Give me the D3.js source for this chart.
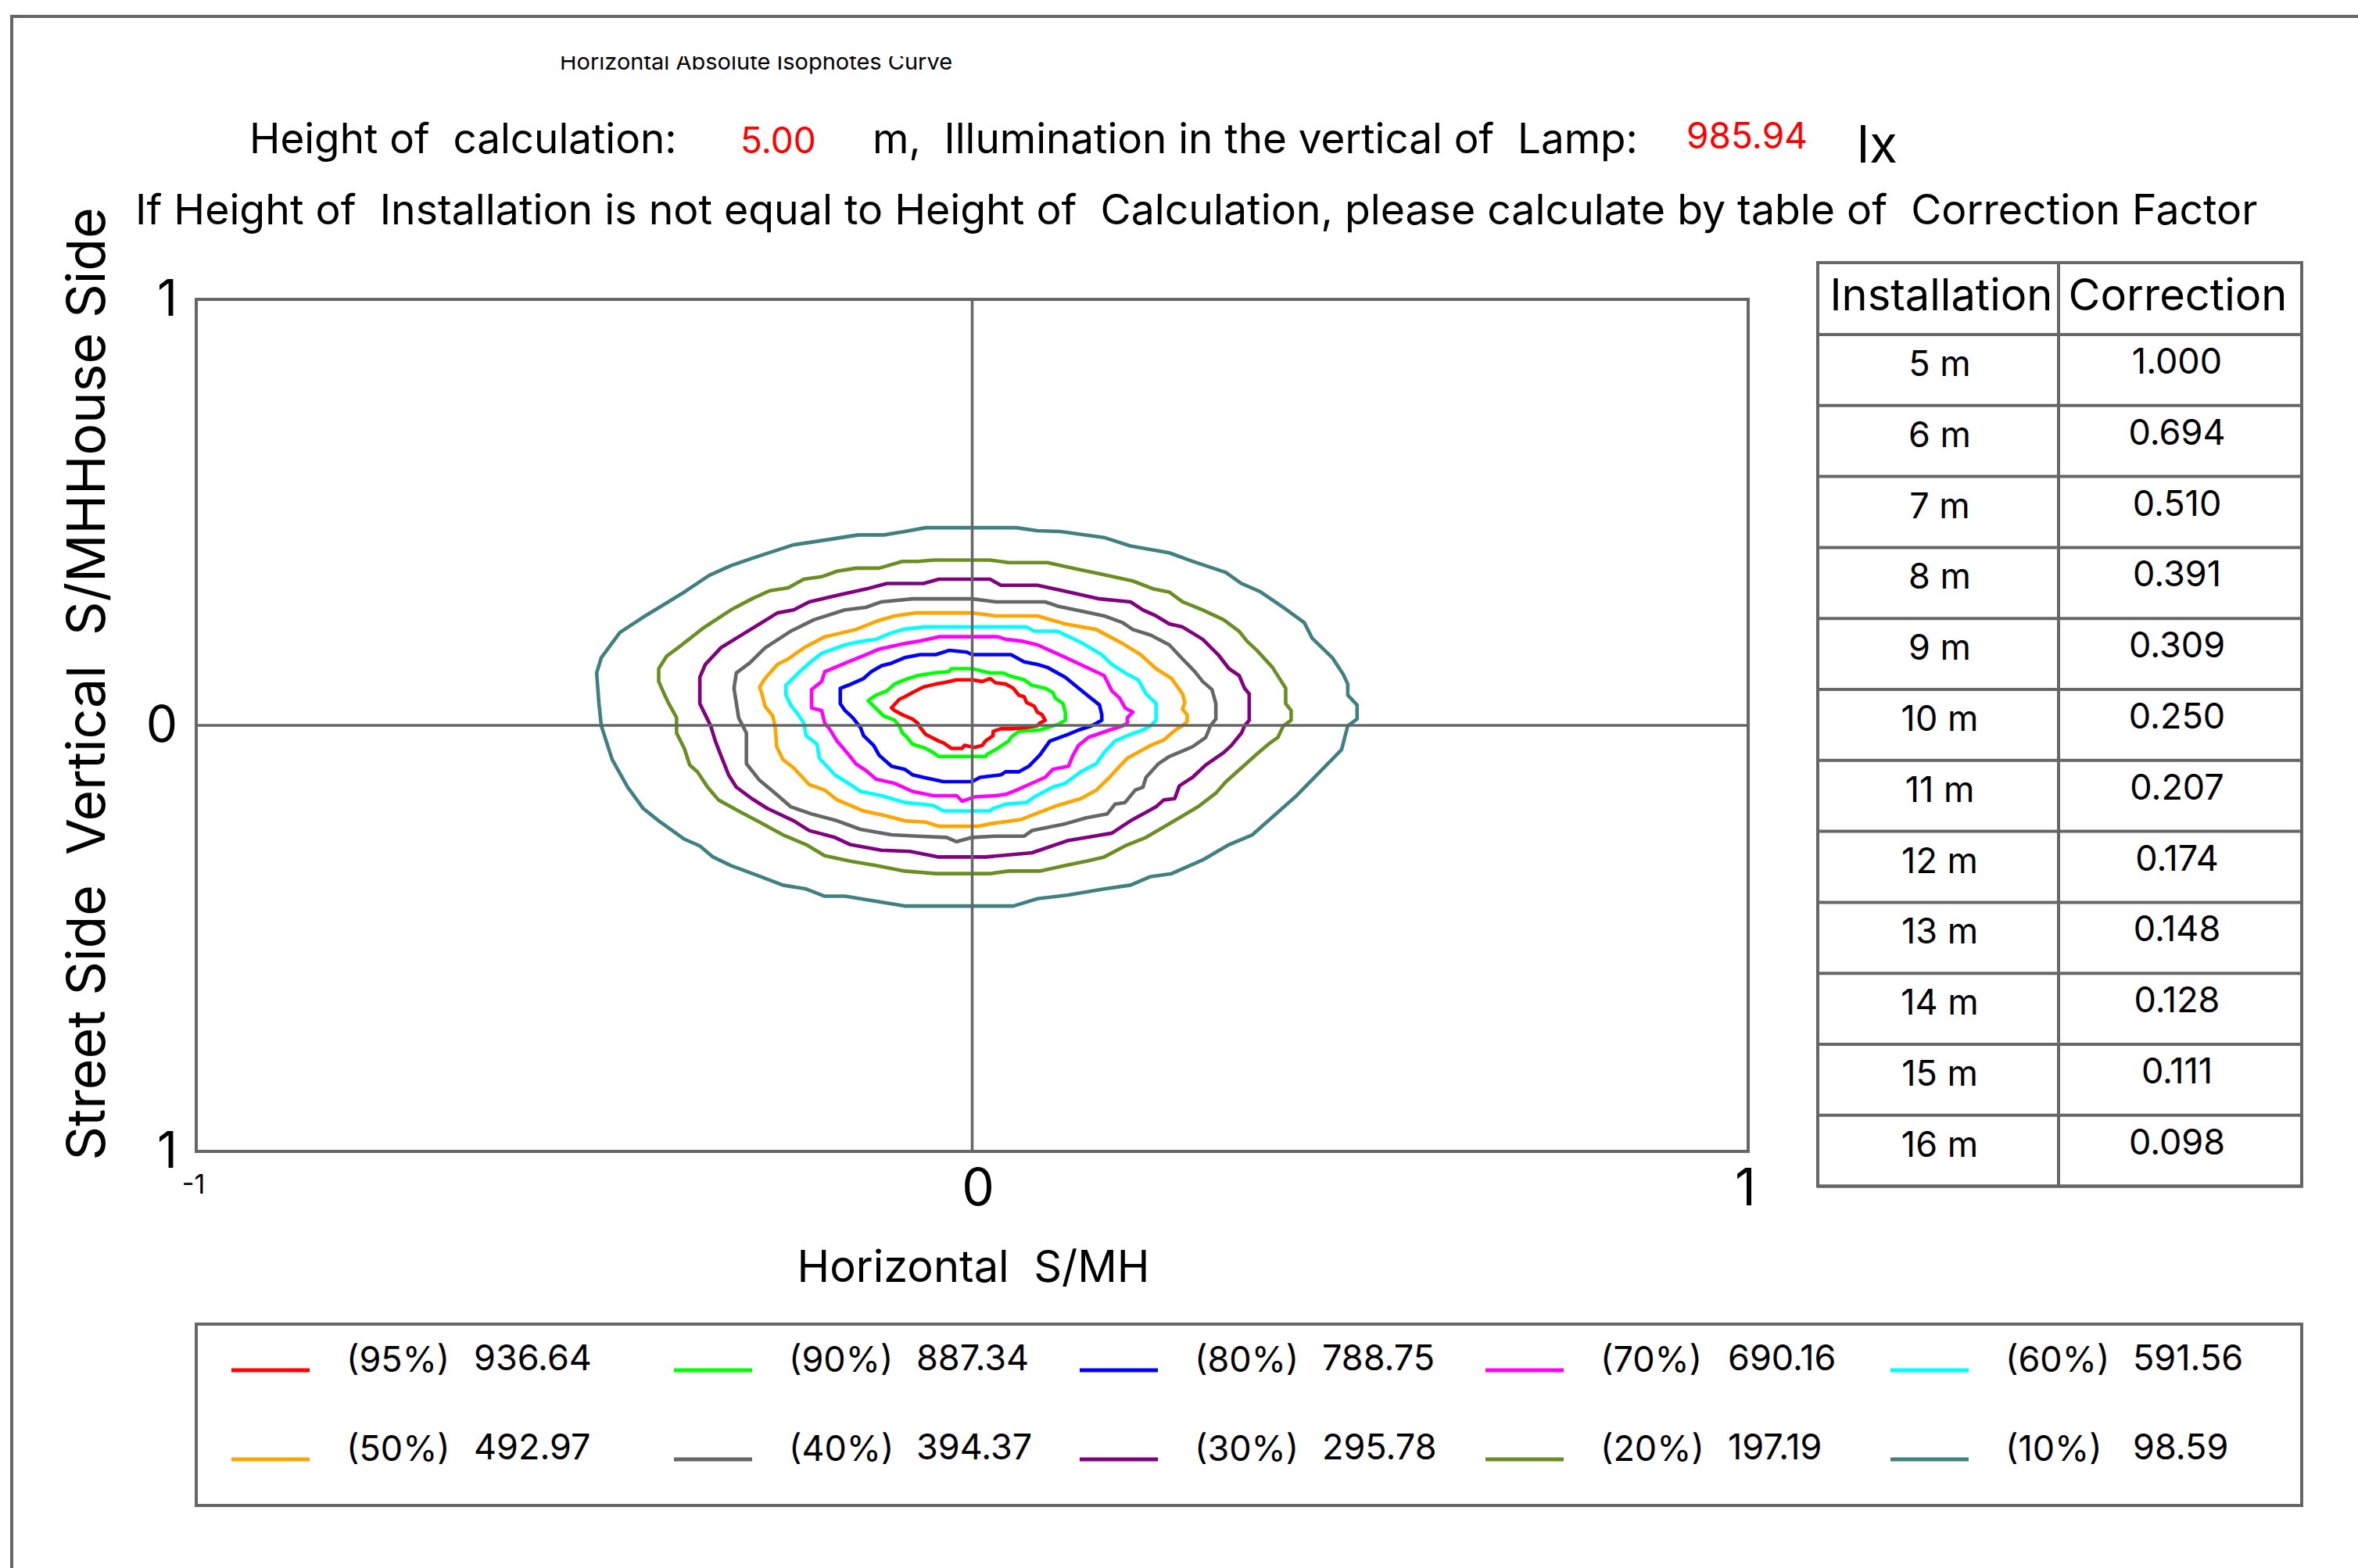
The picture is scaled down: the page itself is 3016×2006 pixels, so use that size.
<!DOCTYPE html>
<html>
<head>
<meta charset="utf-8">
<script src="https://cdn.jsdelivr.net/npm/d3@7"></script>
<style>
body { margin: 0; background: #fff; }
svg { display: block; font-family: Inter, "Noto Sans", sans-serif; }
text { white-space: pre; }
</style>
</head>
<body>
<div id="chart"></div>
<script>
// ---- data ----
var calcHeight = 5.00;
var lampLux = 985.94;

var levelNames = ["(95%)", "(90%)", "(80%)", "(70%)", "(60%)", "(50%)", "(40%)", "(30%)", "(20%)", "(10%)"];
var levelLux = [936.64, 887.34, 788.75, 690.16, 591.56, 492.97, 394.37, 295.78, 197.19, 98.59];

var installHeights = [5, 6, 7, 8, 9, 10, 11, 12, 13, 14, 15, 16];
var correctionFactors = [1.000, 0.694, 0.510, 0.391, 0.309, 0.250, 0.207, 0.174, 0.148, 0.128, 0.111, 0.098];

var xTicks = [-1, 0, 1];
var yTicks = [1, 0, -1];

// isolux curves, [horizontal S/MH, vertical S/MH]
var iso95 = [[-0.020,0.107],[0,0.107],[0.013,0.103],[0.023,0.110],[0.030,0.100],[0.043,0.097],[0.053,0.087],[0.060,0.071],[0.067,0.067],[0.070,0.054],[0.080,0.045],[0.084,0.031],[0.090,0.025],[0.094,0.012],[0.087,0.005],[0.084,-0.001],[0.070,-0.005],[0.050,-0.008],[0.037,-0.008],[0.027,-0.014],[0.027,-0.024],[0.017,-0.037],[0.013,-0.047],[0.003,-0.052],[-0.010,-0.047],[-0.013,-0.054],[-0.027,-0.054],[-0.037,-0.041],[-0.043,-0.037],[-0.060,-0.021],[-0.067,-0.005],[-0.070,0.005],[-0.077,0.015],[-0.090,0.025],[-0.100,0.035],[-0.104,0.041],[-0.094,0.061],[-0.087,0.067],[-0.077,0.077],[-0.063,0.090],[-0.047,0.097],[-0.037,0.100]];
var iso90 = [[-0.027,0.133],[0,0.133],[0.023,0.123],[0.040,0.123],[0.047,0.117],[0.067,0.107],[0.077,0.094],[0.094,0.087],[0.104,0.077],[0.107,0.064],[0.117,0.051],[0.120,0.031],[0.120,0.012],[0.110,0.002],[0.087,-0.011],[0.060,-0.014],[0.050,-0.028],[0.047,-0.037],[0.030,-0.057],[0.020,-0.067],[0.017,-0.073],[-0.043,-0.073],[-0.050,-0.064],[-0.060,-0.054],[-0.077,-0.044],[-0.084,-0.028],[-0.090,-0.018],[-0.094,-0.001],[-0.100,0.012],[-0.114,0.022],[-0.127,0.045],[-0.134,0.058],[-0.124,0.071],[-0.110,0.081],[-0.100,0.097],[-0.087,0.107],[-0.070,0.117],[-0.050,0.123],[-0.030,0.126]];
var iso80 = [[-0.030,0.176],[-0.007,0.172],[0,0.166],[0.050,0.166],[0.067,0.149],[0.084,0.143],[0.097,0.136],[0.120,0.113],[0.144,0.077],[0.164,0.048],[0.167,0.025],[0.167,0.012],[0.154,-0.001],[0.137,-0.011],[0.124,-0.021],[0.100,-0.037],[0.087,-0.070],[0.073,-0.096],[0.060,-0.109],[0.043,-0.109],[0.037,-0.116],[0.010,-0.122],[0,-0.132],[-0.037,-0.132],[-0.063,-0.122],[-0.077,-0.116],[-0.087,-0.103],[-0.104,-0.096],[-0.120,-0.070],[-0.127,-0.047],[-0.140,-0.024],[-0.144,-0.005],[-0.154,0.018],[-0.164,0.035],[-0.170,0.051],[-0.170,0.087],[-0.160,0.094],[-0.140,0.110],[-0.130,0.126],[-0.117,0.140],[-0.104,0.146],[-0.087,0.159],[-0.067,0.166],[-0.047,0.166]];
var iso70 = [[-0.043,0.208],[0.033,0.208],[0.043,0.202],[0.063,0.198],[0.084,0.189],[0.117,0.162],[0.170,0.117],[0.180,0.081],[0.190,0.064],[0.197,0.041],[0.207,0.031],[0.200,0.018],[0.200,0.005],[0.194,-0.001],[0.177,-0.011],[0.150,-0.028],[0.137,-0.047],[0.130,-0.070],[0.124,-0.096],[0.104,-0.103],[0.094,-0.122],[0.073,-0.139],[0.057,-0.152],[0.043,-0.162],[0.030,-0.165],[0.003,-0.168],[-0.013,-0.178],[-0.020,-0.165],[-0.050,-0.165],[-0.077,-0.155],[-0.100,-0.136],[-0.124,-0.126],[-0.137,-0.106],[-0.150,-0.090],[-0.160,-0.067],[-0.174,-0.037],[-0.184,-0.008],[-0.190,0.005],[-0.194,0.035],[-0.207,0.041],[-0.207,0.084],[-0.194,0.103],[-0.190,0.126],[-0.160,0.149],[-0.137,0.166],[-0.120,0.179],[-0.087,0.192],[-0.067,0.198]];
var iso60 = [[-0.063,0.231],[0.070,0.231],[0.080,0.221],[0.110,0.221],[0.140,0.195],[0.167,0.166],[0.180,0.143],[0.200,0.120],[0.214,0.107],[0.224,0.074],[0.237,0.051],[0.237,0.012],[0.230,-0.001],[0.220,-0.011],[0.200,-0.024],[0.184,-0.037],[0.170,-0.064],[0.160,-0.090],[0.140,-0.109],[0.120,-0.136],[0.104,-0.145],[0.080,-0.168],[0.070,-0.181],[0.043,-0.185],[0.027,-0.195],[0.023,-0.201],[-0.037,-0.201],[-0.050,-0.188],[-0.087,-0.181],[-0.117,-0.165],[-0.144,-0.155],[-0.157,-0.139],[-0.177,-0.116],[-0.197,-0.077],[-0.200,-0.044],[-0.214,-0.024],[-0.217,0.005],[-0.224,0.025],[-0.234,0.048],[-0.240,0.071],[-0.240,0.094],[-0.220,0.130],[-0.210,0.146],[-0.194,0.169],[-0.164,0.189],[-0.140,0.198],[-0.124,0.202],[-0.107,0.215],[-0.090,0.225]];
var iso50 = [[-0.073,0.264],[0,0.264],[0.030,0.257],[0.084,0.257],[0.120,0.238],[0.160,0.225],[0.194,0.192],[0.217,0.166],[0.237,0.133],[0.257,0.110],[0.271,0.074],[0.274,0.054],[0.271,0.038],[0.277,0.025],[0.277,0.009],[0.271,-0.001],[0.264,-0.008],[0.247,-0.034],[0.230,-0.047],[0.220,-0.057],[0.200,-0.077],[0.190,-0.096],[0.177,-0.122],[0.160,-0.152],[0.140,-0.172],[0.110,-0.188],[0.087,-0.204],[0.063,-0.221],[0.023,-0.231],[0.007,-0.237],[-0.043,-0.237],[-0.060,-0.227],[-0.087,-0.224],[-0.114,-0.211],[-0.140,-0.201],[-0.157,-0.188],[-0.174,-0.175],[-0.190,-0.152],[-0.210,-0.139],[-0.230,-0.100],[-0.244,-0.080],[-0.252,-0.050],[-0.254,-0.001],[-0.257,0.022],[-0.267,0.045],[-0.271,0.074],[-0.274,0.090],[-0.267,0.110],[-0.251,0.143],[-0.237,0.156],[-0.217,0.182],[-0.190,0.208],[-0.150,0.225],[-0.124,0.244],[-0.100,0.257]];
var iso40 = [[-0.117,0.290],[-0.077,0.297],[0,0.297],[0.030,0.290],[0.094,0.290],[0.110,0.280],[0.144,0.267],[0.170,0.257],[0.194,0.241],[0.207,0.225],[0.230,0.212],[0.254,0.189],[0.271,0.156],[0.287,0.126],[0.297,0.103],[0.309,0.084],[0.314,0.051],[0.314,0.015],[0.307,-0.001],[0.301,-0.028],[0.284,-0.050],[0.254,-0.073],[0.240,-0.090],[0.224,-0.122],[0.220,-0.145],[0.210,-0.152],[0.197,-0.181],[0.184,-0.185],[0.174,-0.208],[0.147,-0.217],[0.120,-0.231],[0.077,-0.247],[0.067,-0.260],[0.030,-0.260],[0,-0.263],[-0.020,-0.273],[-0.033,-0.263],[-0.070,-0.260],[-0.104,-0.257],[-0.144,-0.244],[-0.174,-0.224],[-0.207,-0.208],[-0.234,-0.191],[-0.254,-0.159],[-0.274,-0.129],[-0.291,-0.090],[-0.291,-0.018],[-0.301,0.018],[-0.307,0.087],[-0.304,0.123],[-0.287,0.146],[-0.267,0.182],[-0.234,0.221],[-0.204,0.248],[-0.164,0.271],[-0.137,0.277]];
var iso30 = [[-0.043,0.343],[0.023,0.343],[0.037,0.329],[0.084,0.329],[0.117,0.316],[0.164,0.297],[0.204,0.290],[0.220,0.271],[0.237,0.257],[0.254,0.238],[0.271,0.231],[0.297,0.202],[0.317,0.166],[0.331,0.133],[0.344,0.117],[0.351,0.087],[0.357,0.074],[0.357,0.012],[0.351,-0.001],[0.347,-0.018],[0.334,-0.047],[0.324,-0.064],[0.301,-0.093],[0.284,-0.122],[0.267,-0.142],[0.261,-0.172],[0.247,-0.175],[0.237,-0.191],[0.224,-0.204],[0.204,-0.224],[0.180,-0.253],[0.157,-0.260],[0.124,-0.270],[0.077,-0.299],[0.017,-0.309],[-0.043,-0.309],[-0.080,-0.296],[-0.117,-0.293],[-0.157,-0.280],[-0.177,-0.263],[-0.210,-0.247],[-0.230,-0.224],[-0.264,-0.195],[-0.284,-0.172],[-0.304,-0.145],[-0.314,-0.116],[-0.324,-0.070],[-0.331,-0.037],[-0.337,-0.001],[-0.344,0.025],[-0.351,0.051],[-0.351,0.113],[-0.344,0.143],[-0.324,0.182],[-0.301,0.208],[-0.274,0.238],[-0.251,0.264],[-0.230,0.271],[-0.210,0.290],[-0.170,0.307],[-0.137,0.320],[-0.110,0.333],[-0.063,0.333]];
var iso20 = [[-0.050,0.388],[0.023,0.388],[0.047,0.382],[0.097,0.382],[0.130,0.369],[0.164,0.356],[0.207,0.339],[0.234,0.320],[0.254,0.313],[0.271,0.290],[0.297,0.271],[0.324,0.248],[0.344,0.221],[0.354,0.198],[0.367,0.176],[0.387,0.136],[0.404,0.087],[0.404,0.051],[0.411,0.035],[0.411,0.012],[0.401,-0.001],[0.394,-0.028],[0.384,-0.041],[0.367,-0.067],[0.351,-0.093],[0.327,-0.132],[0.314,-0.159],[0.291,-0.191],[0.267,-0.217],[0.224,-0.263],[0.197,-0.283],[0.170,-0.309],[0.147,-0.319],[0.120,-0.329],[0.087,-0.342],[0.047,-0.342],[0.023,-0.348],[-0.047,-0.348],[-0.087,-0.342],[-0.124,-0.329],[-0.157,-0.319],[-0.190,-0.306],[-0.214,-0.280],[-0.244,-0.257],[-0.274,-0.227],[-0.304,-0.198],[-0.327,-0.175],[-0.341,-0.145],[-0.354,-0.109],[-0.364,-0.093],[-0.371,-0.054],[-0.381,-0.018],[-0.381,0.018],[-0.391,0.051],[-0.397,0.074],[-0.404,0.103],[-0.404,0.133],[-0.394,0.162],[-0.377,0.185],[-0.347,0.228],[-0.311,0.271],[-0.284,0.297],[-0.261,0.316],[-0.237,0.323],[-0.217,0.343],[-0.194,0.349],[-0.174,0.362],[-0.150,0.369],[-0.120,0.369],[-0.090,0.385],[-0.070,0.385]];
var iso10 = [[-0.060,0.464],[0.057,0.464],[0.084,0.457],[0.114,0.455],[0.170,0.441],[0.204,0.421],[0.254,0.405],[0.284,0.385],[0.327,0.359],[0.347,0.333],[0.371,0.314],[0.401,0.277],[0.428,0.241],[0.438,0.205],[0.464,0.159],[0.478,0.120],[0.484,0.097],[0.484,0.071],[0.496,0.048],[0.496,0.015],[0.484,-0.001],[0.476,-0.057],[0.418,-0.165],[0.361,-0.257],[0.331,-0.280],[0.297,-0.316],[0.257,-0.348],[0.230,-0.355],[0.204,-0.375],[0.170,-0.384],[0.124,-0.398],[0.084,-0.407],[0.053,-0.424],[-0.087,-0.424],[-0.164,-0.401],[-0.190,-0.401],[-0.214,-0.384],[-0.244,-0.375],[-0.277,-0.352],[-0.311,-0.329],[-0.334,-0.309],[-0.351,-0.283],[-0.371,-0.267],[-0.404,-0.224],[-0.424,-0.195],[-0.444,-0.145],[-0.464,-0.080],[-0.478,-0.001],[-0.481,0.051],[-0.484,0.123],[-0.478,0.159],[-0.454,0.218],[-0.424,0.254],[-0.397,0.284],[-0.371,0.313],[-0.339,0.352],[-0.311,0.375],[-0.284,0.392],[-0.257,0.408],[-0.230,0.424],[-0.204,0.431],[-0.147,0.447],[-0.114,0.447],[-0.087,0.455]];

var isoLines = [iso95, iso90, iso80, iso70, iso60, iso50, iso40, iso30, iso20, iso10];
var isoColors = ["#ff0000", "#00ff00", "#0000ff", "#ff00ff", "#00ffff", "#ffa500", "#666666", "#800080", "#6b8e23", "#408080"];

// ---- layout ----
var W = 3016, H = 2006;
var frameColor = "#666666";
var plot = {left: 251, right: 2236, top: 383, bottom: 1473};

var svg = d3.select("#chart").append("svg")
    .attr("width", W)
    .attr("height", H);

svg.append("rect").attr("width", W).attr("height", H).attr("fill", "#fff");

// outer page border (runs off the right and bottom)
svg.append("rect")
    .attr("x", 15).attr("y", 21)
    .attr("width", W + 100).attr("height", H + 100)
    .attr("fill", "none")
    .attr("stroke", frameColor)
    .attr("stroke-width", 4);

// title, clipped at the top like the original
svg.append("clipPath").attr("id", "titleClip")
    .append("rect").attr("x", 0).attr("y", 72).attr("width", W).attr("height", 100);
svg.append("text")
    .attr("clip-path", "url(#titleClip)")
    .attr("x", 716).attr("y", 89)
    .style("font-size", "29px")
    .text("Horizontal Absolute Isophotes Curve");

// header lines
var header = svg.append("g").style("font-size", "53px");
header.append("text").attr("x", 319).attr("y", 196).text("Height of  calculation:");
header.append("text").attr("x", 947).attr("y", 196).attr("fill", "#ff0000").style("font-size", "46px")
    .text(d3.format(".2f")(calcHeight));
header.append("text").attr("x", 1116).attr("y", 196).text("m,  Illumination in the vertical of  Lamp:");
header.append("text").attr("x", 2157).attr("y", 190).attr("fill", "#ff0000").style("font-size", "46px")
    .text(d3.format(".2f")(lampLux));
header.append("text").attr("x", 2375).attr("y", 208).style("font-size", "66px").text("lx");
header.append("text").attr("x", 173).attr("y", 287).style("font-size", "53.6px")
    .text("If Height of  Installation is not equal to Height of  Calculation, please calculate by table of  Correction Factor");

// ---- plot ----
var x = d3.scaleLinear().domain([-1, 1]).range([plot.left, plot.right]);
var y = d3.scaleLinear().domain([-1, 1]).range([plot.bottom, plot.top]);

var line = d3.line()
    .x(function(d) { return x(d[0]); })
    .y(function(d) { return y(d[1]); })
    .curve(d3.curveLinearClosed);

svg.append("g")
    .selectAll("path")
    .data(isoLines.slice().reverse())
    .join("path")
    .attr("d", line)
    .attr("fill", "none")
    .attr("stroke", function(d, i) { return isoColors[isoColors.length - 1 - i]; })
    .attr("stroke-width", 4.6)
    .attr("stroke-linejoin", "round");

// cross through the lamp
svg.append("line")
    .attr("x1", x(0)).attr("x2", x(0)).attr("y1", y(1)).attr("y2", y(-1))
    .attr("stroke", frameColor).attr("stroke-width", 3.5);
svg.append("line")
    .attr("x1", x(-1)).attr("x2", x(1)).attr("y1", y(0)).attr("y2", y(0))
    .attr("stroke", frameColor).attr("stroke-width", 3.5);

svg.append("rect")
    .attr("x", plot.left).attr("y", plot.top)
    .attr("width", plot.right - plot.left).attr("height", plot.bottom - plot.top)
    .attr("fill", "none")
    .attr("stroke", frameColor)
    .attr("stroke-width", 4);

// axes
var yAxis = d3.axisLeft(y).tickValues(yTicks).tickSize(0).tickPadding(24)
    .tickFormat(function(d) { return Math.abs(d); });
var gy = svg.append("g").attr("transform", "translate(" + plot.left + ",0)").call(yAxis);
gy.select(".domain").remove();
gy.selectAll("text").style("font-family", "Inter, sans-serif").style("font-size", "64px").attr("fill", "#000");

var xAxis = d3.axisBottom(x).tickValues(xTicks).tickSize(0).tickPadding(22)
    .tickFormat(function(d) { return d < 0 ? "-" + Math.abs(d) : d; });
var gx = svg.append("g").attr("transform", "translate(0," + plot.bottom + ")").call(xAxis);
gx.select(".domain").remove();
gx.selectAll("text")
    .style("font-family", "Inter, sans-serif")
    .style("font-size", function(d) { return d < 0 ? "34px" : "66px"; })
    .attr("y", function(d) { return d < 0 ? 30 : 22; })
    .attr("dx", function(d) { return d === 0 ? 7 : -4; })
    .attr("fill", "#000");

svg.append("text")
    .attr("x", 1245).attr("y", 1640)
    .attr("text-anchor", "middle")
    .style("font-size", "56px")
    .text("Horizontal  S/MH");

svg.append("text")
    .attr("transform", "translate(134,875) rotate(-90)")
    .attr("text-anchor", "middle")
    .style("font-size", "68px")
    .text("Street Side  Vertical  S/MHHouse Side");

// ---- correction factor table ----
var tbl = {left: 2325, mid: 2633, right: 2944, top: 336, headBottom: 428, rowH: 90.8};
var rowY = d3.scaleLinear().domain([0, installHeights.length]).range([tbl.headBottom, tbl.headBottom + tbl.rowH * installHeights.length]);
var table = svg.append("g");

table.selectAll("line.row")
    .data(d3.range(installHeights.length + 1))
    .join("line")
    .attr("x1", tbl.left).attr("x2", tbl.right)
    .attr("y1", function(d) { return rowY(d); }).attr("y2", function(d) { return rowY(d); })
    .attr("stroke", frameColor).attr("stroke-width", 4);
table.append("rect")
    .attr("x", tbl.left).attr("y", tbl.top)
    .attr("width", tbl.right - tbl.left).attr("height", rowY(installHeights.length) - tbl.top)
    .attr("fill", "none").attr("stroke", frameColor).attr("stroke-width", 4);
table.append("line")
    .attr("x1", tbl.mid).attr("x2", tbl.mid).attr("y1", tbl.top).attr("y2", rowY(installHeights.length))
    .attr("stroke", frameColor).attr("stroke-width", 4);

table.append("text").attr("x", (tbl.left + tbl.mid) / 2 + 4).attr("y", tbl.top + 61)
    .attr("text-anchor", "middle").style("font-size", "56px").text("Installation");
table.append("text").attr("x", (tbl.mid + tbl.right) / 2 - 3).attr("y", tbl.top + 61)
    .attr("text-anchor", "middle").style("font-size", "56px").text("Correction");

table.selectAll("text.h")
    .data(installHeights)
    .join("text")
    .attr("class", "h")
    .attr("x", (tbl.left + tbl.mid) / 2 + 2)
    .attr("y", function(d, i) { return rowY(i) + 53; })
    .attr("text-anchor", "middle")
    .style("font-size", "45px")
    .text(function(d) { return d + " m"; });

table.selectAll("text.f")
    .data(correctionFactors)
    .join("text")
    .attr("class", "f")
    .attr("x", (tbl.mid + tbl.right) / 2 - 4)
    .attr("y", function(d, i) { return rowY(i) + 50; })
    .attr("text-anchor", "middle")
    .style("font-size", "45px")
    .text(function(d) { return d3.format(".3f")(d); });

// ---- legend ----
var leg = {left: 251, right: 2944, top: 1694, bottom: 1926};
var legCols = [296, 862, 1381, 1900, 2418];
var legRows = [1753, 1867];

svg.append("rect")
    .attr("x", leg.left).attr("y", leg.top)
    .attr("width", leg.right - leg.left).attr("height", leg.bottom - leg.top)
    .attr("fill", "none").attr("stroke", frameColor).attr("stroke-width", 4);

var items = svg.append("g")
    .selectAll("g")
    .data(levelNames)
    .join("g")
    .attr("transform", function(d, i) {
        return "translate(" + legCols[i % 5] + "," + legRows[Math.floor(i / 5)] + ")";
    });

items.append("line")
    .attr("x1", 0).attr("x2", 100)
    .attr("stroke", function(d, i) { return isoColors[i]; })
    .attr("stroke-width", 5);
items.append("text")
    .attr("x", 147).attr("y", 2)
    .style("font-size", "45px")
    .text(function(d) { return d; });
items.append("text")
    .attr("x", 310).attr("y", 0)
    .style("font-size", "45px")
    .text(function(d, i) { return d3.format(".2f")(levelLux[i]); });
</script>
</body>
</html>
